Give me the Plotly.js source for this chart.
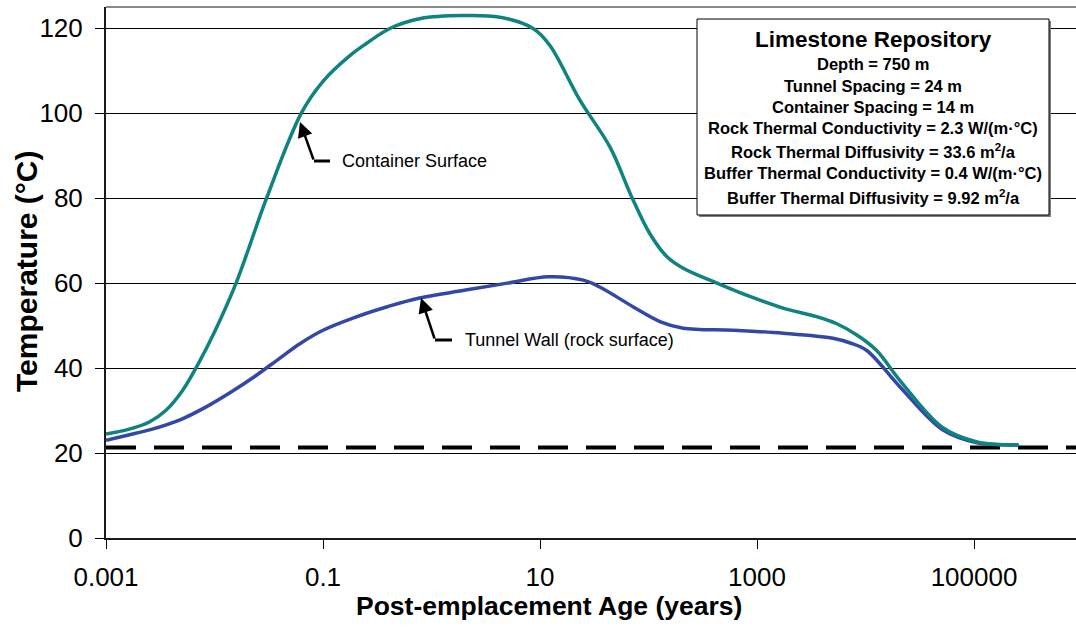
<!DOCTYPE html>
<html>
<head>
<meta charset="utf-8">
<script src="https://cdn.plot.ly/plotly-3.0.1.min.js"></script>
<style>html,body{margin:0;padding:0;background:#fff}#chart{width:1076px;height:629px}</style>
</head>
<body>
<div id="chart"></div>
<script>
// ---- data ----
const containerYears = [0.001, 0.00158, 0.00251, 0.00355, 0.005, 0.00708, 0.01, 0.0158, 0.0302, 0.0631, 0.1, 0.178, 0.251, 0.417, 0.794, 1.95, 4.27, 8.71, 12.3, 23.4, 44.2, 70, 102, 148, 209, 427, 871, 1740, 3550, 5370, 8320, 12600, 20900, 51300, 107000, 257000];
const containerTemp  = [24.5, 25.5, 27.3, 30.0, 34.5, 41, 48.5, 60, 80, 100, 107.5, 113.6, 116.4, 120, 122.3, 123, 122.6, 119.9, 116, 103, 92, 80.3, 71.8, 66.2, 63.5, 60, 56.8, 54.1, 52.1, 50.5, 47.8, 44.2, 37, 26, 22.6, 21.9];

const tunnelYears = [0.001, 0.00158, 0.00257, 0.005, 0.0083, 0.0141, 0.024, 0.0398, 0.0617, 0.1, 0.2, 0.398, 0.776, 2, 5, 12, 25.1, 35.5, 72.4, 129, 209, 603, 1740, 5010, 7240, 10200, 20900, 51300, 107000, 158000, 257000];
const tunnelTemp  = [23, 24.2, 25.5, 28, 30.8, 34.3, 38.2, 42.3, 45.8, 48.9, 52, 54.5, 56.5, 58.3, 60, 61.5, 60.7, 59.1, 54.4, 50.9, 49.4, 48.9, 48.2, 47, 45.9, 44.2, 35.5, 25.5, 22.4, 22, 21.9];

const ambientYears = [0.001, 1000000];
const ambientTemp  = [21.3, 21.3];

const xTickVals  = [0.001, 0.1, 10, 1000, 100000];
const xTickText  = ["0.001", "0.1", "10", "1000", "100000"];
const yTickVals  = [0, 20, 40, 60, 80, 100, 120];

const boxTitle = "Limestone Repository";
const boxLines = [
  "Depth = 750 m",
  "Tunnel Spacing = 24 m",
  "Container Spacing = 14 m",
  "Rock Thermal Conductivity = 2.3 W/(m·°C)",
  "Rock Thermal Diffusivity = 33.6 m<sup>2</sup>/a",
  "Buffer Thermal Conductivity = 0.4 W/(m·°C)",
  "Buffer Thermal Diffusivity = 9.92 m<sup>2</sup>/a"
];

// ---- layout helpers (pixel -> paper) ----
const L = 106, R = 1076, T = 7, B = 538;
const px = x => (x - L) / (R - L);
const py = y => (B - y) / (B - T);
const FONT = "Liberation Sans, Arial, sans-serif";

const traces = [
  {x: ambientYears, y: ambientTemp, mode: "lines", line: {color: "#000", width: 4, dash: "30px,18px"}, hoverinfo: "skip"},
  {x: tunnelYears, y: tunnelTemp, mode: "lines", line: {color: "#3348a6", width: 3.5, shape: "spline", smoothing: 1}, name: "Tunnel Wall"},
  {x: containerYears, y: containerTemp, mode: "lines", line: {color: "#0e8380", width: 3.5, shape: "spline", smoothing: 1}, name: "Container Surface"}
];

function txt(x, y, text, size, extra) {
  return Object.assign({xref: "paper", yref: "paper", x: px(x), y: py(y), text: text, showarrow: false,
    xanchor: "center", yanchor: "middle", font: {family: FONT, size: size, color: "#000"}}, extra || {});
}

const boxLineY = [64, 86, 107, 128, 151, 173, 197];
const annotations = [
  txt(26, 272, "<b>Temperature (°C)</b>", 30, {textangle: -90}),
  txt(549, 606, "<b>Post-emplacement Age (years)</b>", 26.5),
  // arrows
  {xref: "paper", yref: "paper", x: px(300), y: py(122), ax: 14, ay: 39, text: "", showarrow: true, arrowhead: 2, arrowsize: 1.2, arrowwidth: 2.5, arrowcolor: "#000"},
  {xref: "paper", yref: "paper", x: px(421), y: py(298), ax: 14, ay: 42, text: "", showarrow: true, arrowhead: 2, arrowsize: 1.2, arrowwidth: 2.5, arrowcolor: "#000"},
  txt(340, 161, "Container Surface", 18, {xanchor: "left"}),
  txt(463, 340, "Tunnel Wall (rock surface)", 18, {xanchor: "left"}),
  txt(873, 40, "<b>" + boxTitle + "</b>", 22.5)
];
boxLines.forEach((t, i) => annotations.push(txt(873, boxLineY[i], "<b>" + t + "</b>", 16.5)));

const shapes = [
  {type: "line", xref: "paper", yref: "paper", x0: 0, x1: 1, y0: 1, y1: 1, line: {color: "#8a8a8a", width: 2}},
  {type: "line", xref: "paper", yref: "paper", x0: px(314), x1: px(330), y0: py(161), y1: py(161), line: {color: "#000", width: 3}},
  {type: "line", xref: "paper", yref: "paper", x0: px(435), x1: px(452), y0: py(340), y1: py(340), line: {color: "#000", width: 3}},
  {type: "rect", xref: "paper", yref: "paper", x0: px(699), x1: px(1051), y0: py(217), y1: py(21), fillcolor: "#7f7f7f", line: {width: 0}},
  {type: "rect", xref: "paper", yref: "paper", x0: px(697), x1: px(1049), y0: py(215), y1: py(19), fillcolor: "#fff", line: {color: "#000", width: 1}}
];

const layout = {
  width: 1076, height: 629,
  margin: {l: L, r: 1076 - R, t: T, b: 629 - B, pad: 0},
  paper_bgcolor: "#fff", plot_bgcolor: "#fff",
  showlegend: false,
  font: {family: FONT, color: "#000"},
  xaxis: {
    type: "log", range: [-3, 5.94], tickvals: xTickVals, ticktext: xTickText,
    ticks: "outside", ticklen: 9, tickwidth: 1, tickcolor: "#000",
    showgrid: false, zeroline: false, showline: true, linecolor: "#1a1a1a", linewidth: 2,
    tickfont: {family: FONT, size: 26, color: "#000"}, ticklabelstandoff: 6
  },
  yaxis: {
    range: [0, 125], tickvals: yTickVals, ticks: "outside", ticklen: 9, tickwidth: 1, tickcolor: "#000",
    showgrid: true, gridcolor: "#000", gridwidth: 1, zeroline: false,
    showline: true, linecolor: "#1a1a1a", linewidth: 2,
    tickfont: {family: FONT, size: 26, color: "#000"}, ticklabelstandoff: 7
  },
  annotations: annotations,
  shapes: shapes
};

Plotly.newPlot("chart", traces, layout, {displayModeBar: false, staticPlot: true});
</script>
</body>
</html>
